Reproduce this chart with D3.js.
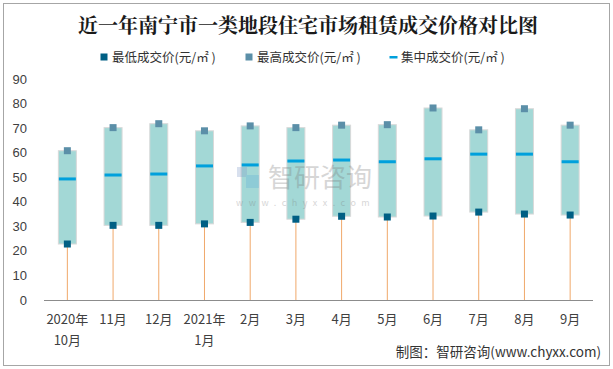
<!DOCTYPE html>
<html><head><meta charset="utf-8">
<script src="https://cdn.jsdelivr.net/npm/d3@7"></script>
<style>body{margin:0;background:#fff}svg{display:block;font-family:"Microsoft YaHei","Noto Sans CJK SC",sans-serif}</style>
</head><body><svg id="c" width="613" height="369"></svg>
<script>
const categories = ["2020年\n10月","11月","12月","2021年\n1月","2月","3月","4月","5月","6月","7月","8月","9月"];
const lowValues    = [22.8,30.4,30.4,31.0,31.6,32.9,34.1,33.8,34.2,35.8,35.0,34.6];
const highValues   = [60.8,70.2,71.8,68.9,70.9,70.2,71.2,71.4,78.2,69.3,77.9,71.2];
const medianValues = [49.3,50.9,51.3,54.6,55.0,56.6,57.0,56.3,57.5,59.4,59.4,56.3];
const yTicks = [0,10,20,30,40,50,60,70,80,90];
const legendLabels = ["最低成交价(元/㎡ )","最高成交价(元/㎡ )","集中成交价(元/㎡ )"];

const svg = d3.select("#c");
svg.append("rect").attr("x",3.5).attr("y",3.5).attr("width",606).attr("height",362)
  .attr("fill","#fff").attr("stroke","#a6a6a6");

const x = d3.scaleBand().domain(categories).range([44.5,593]);
const y = d3.scaleLinear().domain([0,90]).range([300,79]);
const cx = d => x(d) + x.bandwidth()/2;

// title
svg.append("text").attr("x",308).attr("y",33).attr("text-anchor","middle")
  .attr("font-size",20).attr("font-weight","bold").attr("fill","#1a1a1a")
  .attr("font-family","'Noto Serif CJK SC','Noto Sans CJK SC',serif")
  .text("近一年南宁市一类地段住宅市场租赁成交价格对比图");

// legend
const lg = svg.append("g").attr("font-size",12.5).attr("fill","#333");
const lx = [104,249,393];
[["#005f84","sq"],["#5b8fa8","sq"],["#00a0dc","ln"]].forEach((s,i)=>{
  if(s[1]==="sq") lg.append("rect").attr("x",lx[i]-3.5).attr("y",53.5).attr("width",7).attr("height",7).attr("fill",s[0]);
  else lg.append("rect").attr("x",lx[i]-3.5).attr("y",56).attr("width",8).attr("height",2.5).attr("fill",s[0]);
  lg.append("text").attr("x",lx[i]+8).attr("y",62).attr("fill","#333").text(legendLabels[i]);
});

// y axis labels
svg.append("g").selectAll("text").data(yTicks).join("text")
  .attr("x",27).attr("y",d=>y(d)+4.5).attr("text-anchor","end")
  .attr("font-size",13).attr("fill","#404040").attr("font-family","'Liberation Sans',Arial,sans-serif").text(d=>d);

// whiskers
const g = svg.append("g");
g.selectAll(".wh").data(categories).join("line")
  .attr("x1",d=>cx(d)).attr("x2",d=>cx(d)).attr("y1",y(0)).attr("y2",(d,i)=>y(lowValues[i]))
  .attr("stroke","#f0a86a").attr("stroke-width",1);
// boxes
const bw = 18;
g.selectAll(".bx").data(categories).join("rect")
  .attr("x",d=>cx(d)-bw/2).attr("width",bw)
  .attr("y",(d,i)=>y(highValues[i])).attr("height",(d,i)=>y(lowValues[i])-y(highValues[i]))
  .attr("fill","#a3d8d6").attr("stroke","#d9d9d9").attr("stroke-width",1);
// median
g.selectAll(".md").data(categories).join("rect")
  .attr("x",d=>cx(d)-8.5).attr("width",17)
  .attr("y",(d,i)=>y(medianValues[i])-1.5).attr("height",3).attr("fill","#00a0dc");
// markers
g.selectAll(".hi").data(categories).join("rect")
  .attr("x",d=>cx(d)-3.5).attr("width",7).attr("y",(d,i)=>y(highValues[i])-3.5).attr("height",7).attr("fill","#5b8fa8");
g.selectAll(".lo").data(categories).join("rect")
  .attr("x",d=>cx(d)-3.5).attr("width",7).attr("y",(d,i)=>y(lowValues[i])-3.5).attr("height",7).attr("fill","#005f84");

// watermark (overlay)
const wm = svg.append("g").attr("opacity",0.3);
wm.append("rect").attr("x",237).attr("y",167).attr("width",10).attr("height",10).attr("fill","#7f9cc8");
wm.append("rect").attr("x",246).attr("y",175).attr("width",13).attr("height",13).attr("fill","#5fb0d8");
wm.append("text").attr("x",268).attr("y",187).attr("font-size",26).attr("fill","#7a7a7a").text("智研咨询");
wm.append("text").attr("x",236).attr("y",206).attr("font-size",9).attr("letter-spacing",5.5).attr("fill","#7a7a7a").text("www.chyxx.com");

// x axis
svg.append("line").attr("x1",44).attr("x2",593).attr("y1",300.5).attr("y2",300.5).attr("stroke","#8c8c8c");
const xl = svg.append("g").attr("font-size",13).attr("fill","#404040");
categories.forEach(c=>{
  c.split("\n").forEach((line,j)=>{
    xl.append("text").attr("x",cx(c)).attr("y",324+j*21).attr("text-anchor","middle").attr("fill","#404040").text(line);
  });
});

// source
svg.append("text").attr("x",601).attr("y",357).attr("text-anchor","end").attr("font-size",13.5).attr("fill","#333")
  .text("制图：智研咨询(www.chyxx.com)");
</script></body></html>
